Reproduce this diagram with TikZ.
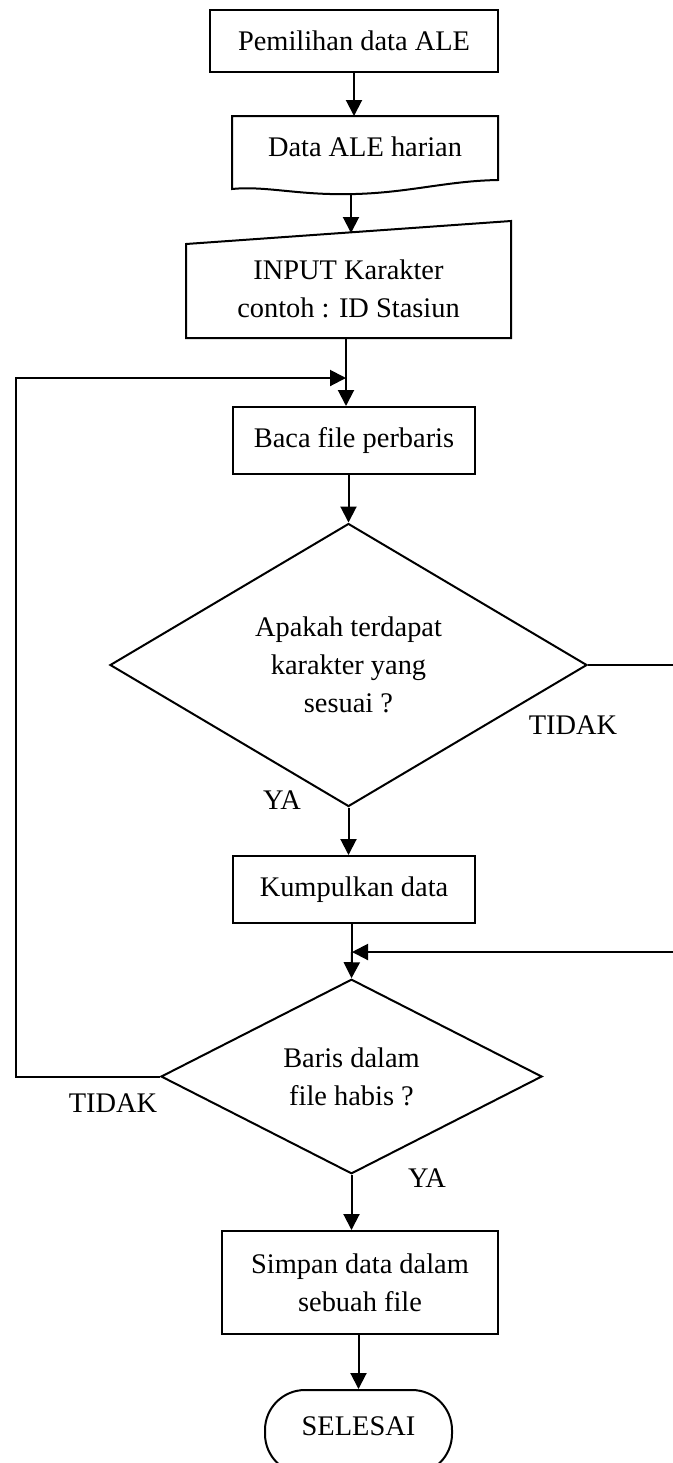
\documentclass[tikz,border=0pt]{standalone}
\usepackage{fontspec}
\setmainfont{Liberation Serif}
\usetikzlibrary{arrows.meta,shapes.geometric}
\begin{document}
\begin{tikzpicture}[x=0.5pt,y=-0.5pt,line width=1pt,
  >={Triangle[length=8pt,width=8pt]},
  font=\fontsize{14.2}{19}\selectfont,
  proc/.style={draw,rectangle,align=center,inner sep=0pt},
  plain/.style={rectangle,align=center,inner sep=0pt},
  decide/.style={draw,diamond,align=center,inner sep=0pt},
  term/.style={draw,rectangle,rounded corners=20pt,inner sep=0pt}]
\useasboundingbox (0,0) rectangle (673,1463);

\node[proc,minimum width=144pt,minimum height=31pt] (v1) at (354,41) {Pemilihan data ALE};
\node[plain,minimum width=132pt,minimum height=30pt] (v2) at (365,147) {Data ALE harian};
\node[plain,minimum width=161.5pt,minimum height=48pt] (v3) at (348.5,289) {INPUT Karakter\\contoh : ID Stasiun};
\node[proc,minimum width=121pt,minimum height=33.5pt] (v4) at (354,440.5) {Baca file perbaris};
\node[decide,minimum width=238.5pt,minimum height=129pt] (v5) at (348.5,665) {Apakah terdapat\\karakter yang\\sesuai ?};
\node[proc,minimum width=121pt,minimum height=33.5pt] (v6) at (354,889.5) {Kumpulkan data};
\node[decide,minimum width=190.5pt,minimum height=91.5pt] (v7) at (351.5,1076.5) {Baris dalam\\file habis ?};
\node[proc,minimum width=138pt,minimum height=51.5pt] (v8) at (360,1282.5) {Simpan data dalam\\sebuah file};
\node[term,minimum width=93.5pt,minimum height=42pt,text depth=6pt] (v9) at (358.5,1432) {SELESAI};

\node (t1) at (573,725) {TIDAK};
\node (y1) at (282,800) {YA};
\node (t2) at (113,1103) {TIDAK};
\node (y2) at (427,1178) {YA};

\draw (v2.north west) -- (v2.north east) -- ([yshift=-1pt]v2.south east)
  .. controls (440,181) and (400,196) .. (330,194)
  .. controls (290,193) and (260,186) .. ([yshift=-5.5pt]v2.south west) -- cycle;
\draw ([yshift=9.5pt]v3.north east) -- ([yshift=-2pt]v3.north west) -- (v3.south west) -- (v3.south east) -- cycle;

\coordinate (c1) at (351,193);
\coordinate (c2) at (351,233);
\coordinate (j1) at (346,378);
\coordinate (j2) at (352,952);
\coordinate (l2) at (16,378);
\coordinate (r1) at (673,665);
\coordinate (r2) at (673,952);

\draw (v1.south) edge[->] (v1.south |- v2.north);
\draw (c1) edge[->] (c2);
\draw (v3.south -| j1) -- (j1);
\draw (j1) edge[->] (j1 |- v4.north);
\draw (v5.north |- v4.south) edge[->] (v5.north);
\draw (v5.east) -- (r1);
\draw (v5.south) edge[->] (v5.south |- v6.north);
\draw (v6.south -| j2) -- (j2);
\draw (r2) edge[->] (j2);
\draw (j2) edge[->] (v7.north);
\draw[->] (v7.west) -| (l2) -- (j1);
\draw (v7.south) edge[->] (v7.south |- v8.north);
\draw (v8.south -| v9.north) edge[->] (v9.north);
\end{tikzpicture}
\end{document}
